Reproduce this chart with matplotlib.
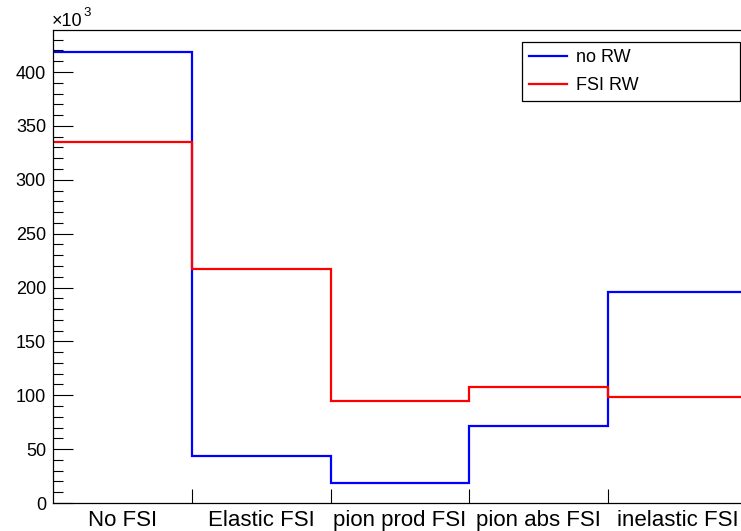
import numpy as np
import matplotlib.pyplot as plt
from matplotlib.ticker import MultipleLocator, FixedLocator

plt.rcParams['font.family'] = ['Liberation Sans', 'DejaVu Sans']

# bin labels and contents (in units of 10^3)
categories = ['No FSI', 'Elastic FSI', 'pion prod FSI', 'pion abs FSI', 'inelastic FSI']
no_rw = [418.6, 43.6, 18.6, 71.5, 195.8]
fsi_rw = [335.0, 217.2, 94.7, 107.7, 98.4]

edges = np.arange(len(categories) + 1)
centers = edges[:-1] + 0.5

fig = plt.figure(figsize=(7.41, 5.31), dpi=100)
# axes run slightly past the right edge of the canvas, like the original
ax = fig.add_axes([53 / 741, 28 / 531, 694 / 741, 473 / 531])

ax.stairs(no_rw, edges, baseline=None, color='#0000ff', linewidth=1.6, label='no RW')
ax.stairs(fsi_rw, edges, baseline=None, color='#ff0000', linewidth=1.6, label='FSI RW')

ax.set_xlim(edges[0], edges[-1])
ax.set_ylim(0, 439)

# y axis: ROOT style inward ticks
ax.yaxis.set_major_locator(MultipleLocator(50))
ax.yaxis.set_minor_locator(MultipleLocator(10))
ax.tick_params(axis='y', which='major', direction='in', length=14.5, width=0.8,
               labelsize=13, pad=5)
ax.tick_params(axis='y', which='minor', direction='in', length=7.2, width=0.8)

# x axis: ticks at bin edges, labels at bin centres
ax.xaxis.set_major_locator(FixedLocator(edges[1:-1]))
ax.xaxis.set_minor_locator(FixedLocator(centers))
ax.set_xticklabels([''] * (len(edges) - 2))
ax.set_xticklabels(categories, minor=True)
ax.tick_params(axis='x', which='major', direction='in', length=10, width=0.8)
ax.tick_params(axis='x', which='minor', length=0, labelsize=16, pad=5)

for side in ['left', 'bottom', 'top', 'right']:
    ax.spines[side].set_linewidth(0.9)

fig.text(52 / 741, 1 - 26 / 531, '\u00d710', fontsize=13, va='baseline', ha='left')
fig.text(83 / 741, 1 - 16 / 531, '3', fontsize=9.5, va='baseline', ha='left')

leg = ax.legend(loc='upper left', bbox_to_anchor=(522 / 741, 1 - 42 / 531, 218 / 741, 0),
                bbox_transform=fig.transFigure, mode='expand', fontsize=13,
                fancybox=False, framealpha=1, edgecolor='black', borderpad=0.4,
                handlelength=2.1, handletextpad=0.5, labelspacing=0.6,
                borderaxespad=0)
leg.get_frame().set_linewidth(0.9)

fig.savefig('out.png', dpi=100)
